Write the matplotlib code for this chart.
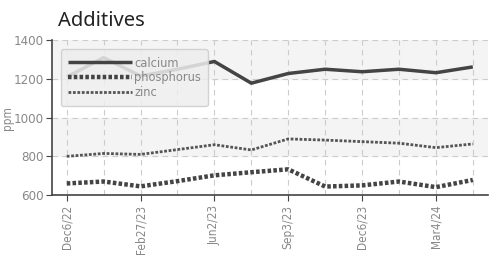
import matplotlib.pyplot as plt
from matplotlib.ticker import MultipleLocator

# one sample roughly every 46 days, first one at Dec 6 2022
x_idx = list(range(12))
tick_pos = [0, 2, 4, 6, 8, 10]
tick_labels = ["Dec6/22", "Feb27/23", "Jun2/23", "Sep3/23", "Dec6/23", "Mar4/24"]

calcium = [1210, 1310, 1215, 1250, 1290, 1178, 1228, 1250, 1237, 1250, 1232, 1262]
phosphorus = [660, 670, 645, 672, 702, 718, 733, 644, 650, 670, 641, 678]
zinc = [800, 815, 810, 835, 860, 833, 890, 884, 876, 868, 845, 864]

plt.rcParams['font.family'] = ['DejaVu Sans']
plt.rcParams['font.stretch'] = 'condensed'

fig = plt.figure(figsize=(4.95, 2.56), dpi=100)
ax = fig.add_axes([0.105, 0.238, 0.88, 0.605])

ax.set_xlim(-0.4, 11.4)
ax.set_ylim(600, 1400)

# alternating bands
for lo in (800, 1200):
    ax.axhspan(lo, lo + 200, color="#f4f4f4", zorder=0)

ax.plot(x_idx, calcium, color="#444444", lw=2.5, solid_capstyle="butt", label="calcium", zorder=3)
ax.plot(x_idx, phosphorus, color="#444444", lw=3.2, linestyle=(0, (0.8, 0.5)), label="phosphorus", zorder=3)
ax.plot(x_idx, zinc, color="#555555", lw=2.0, linestyle=(0, (1, 0.6)), label="zinc", zorder=3)

ax.set_xticks(tick_pos)
ax.set_xticklabels(tick_labels, rotation=90, color="#888888", fontsize=8.5)
ax.xaxis.set_minor_locator(MultipleLocator(1))
ax.yaxis.set_major_locator(MultipleLocator(200))
ax.tick_params(axis="y", labelcolor="#888888", labelsize=9.5, color="#444444", length=4, pad=2)
ax.tick_params(axis="x", which="major", color="#444444", length=4, pad=3)
ax.tick_params(axis="x", which="minor", length=0)

ax.grid(True, which="both", color="#cccccc", linestyle=(0, (5, 4)), lw=0.8)
ax.set_axisbelow(True)

for s in ("top", "right"):
    ax.spines[s].set_visible(False)
ax.spines["left"].set_color("#444444")
ax.spines["bottom"].set_color("#444444")
ax.spines["left"].set_linewidth(1.2)
ax.spines["bottom"].set_linewidth(1.2)

ax.set_ylabel("ppm", color="#888888", fontsize=8.5, va="center")
ax.yaxis.set_label_coords(-0.103, 0.5)
fig.text(0.117, 0.9, "Additives", fontsize=14.5, color="#222222", family=["Noto Sans", "DejaVu Sans"],
         stretch="normal")

leg = ax.legend(loc="upper left", bbox_to_anchor=(0.02, 0.94), frameon=True, fancybox=True,
                handlelength=5.0, handletextpad=0.2, labelspacing=0.15, fontsize=9.2,
                borderpad=0.55, borderaxespad=0.0)
leg.get_frame().set_facecolor("#eeeeee")
leg.get_frame().set_edgecolor("#cccccc")
leg.get_frame().set_alpha(0.85)
for t in leg.get_texts():
    t.set_color("#888888")

fig.savefig("out.png", dpi=100)
